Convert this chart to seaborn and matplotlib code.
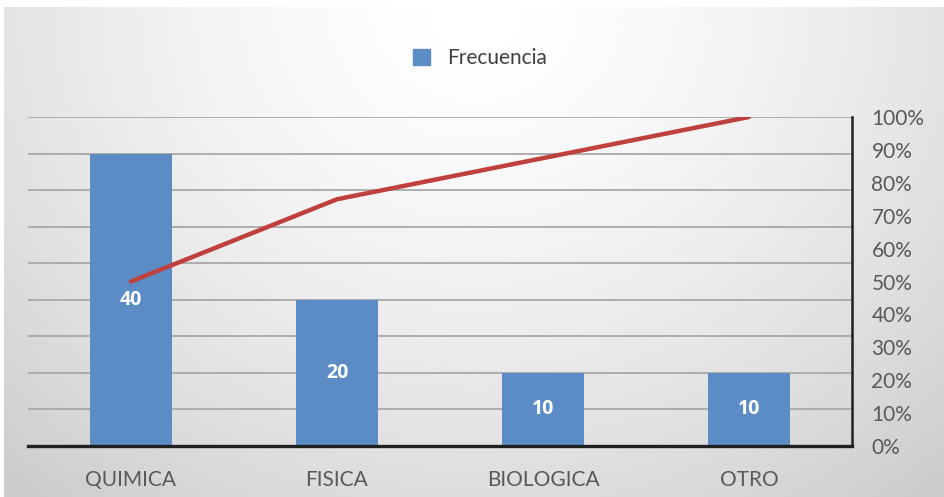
import numpy as np
import matplotlib.pyplot as plt
import seaborn as sns
from matplotlib.patches import Patch
from matplotlib.ticker import PercentFormatter

# Datos
categorias = ['QUIMICA', 'FISICA', 'BIOLOGICA', 'OTRO']
frecuencia = [40, 20, 10, 10]
acumulado = [0.50, 0.75, 0.875, 1.00]

bar_color = '#5b8cc6'
line_color = '#c0403d'
text_color = '#595959'

sns.set_theme(style='white')
plt.rcParams['font.family'] = ['Lato', 'DejaVu Sans']

fig = plt.figure(figsize=(9.45, 4.97), dpi=100)

# fondo degradado tipo Excel
bg = fig.add_axes([0.004, 0, 0.996, 0.986], zorder=-10)
gx, gy = np.meshgrid(np.linspace(0, 1, 300), np.linspace(0, 1, 200))
r = np.sqrt(((gx - 0.5) / 0.75) ** 2 + ((gy - 0.0) / 1.3) ** 2)
shade = 1 - 0.2 * np.clip(r, 0, 1) ** 1.5
bg.imshow(shade, cmap='gray', vmin=0, vmax=1, aspect='auto', extent=[0, 1, 1, 0])
bg.axis('off')

ax = fig.add_axes([0.0296, 0.1026, 0.872, 0.662])
ax.patch.set_alpha(0)

sns.barplot(x=categorias, y=frecuencia, color=bar_color, width=0.4,
            saturation=1, linewidth=0, ax=ax, zorder=3)
ax.set_ylim(0, 45)
ax.set_xlim(-0.5, 3.5)
ax.set_yticks(np.arange(5, 46, 5))
ax.yaxis.grid(True, color='#a8a8a8', linewidth=1.3, zorder=0)
ax.set_yticklabels([])
ax.tick_params(axis='y', length=0)
ax.tick_params(axis='x', length=0, labelsize=15, labelcolor=text_color, pad=17)
ax.set_xlabel('')
ax.set_ylabel('')
for s in ['top', 'left', 'right']:
    ax.spines[s].set_visible(False)
ax.spines['bottom'].set_color('#202020')
ax.spines['bottom'].set_linewidth(2.4)
ax.spines['bottom'].set_zorder(5)

for i, v in enumerate(frecuencia):
    ax.text(i, v / 2, str(v), ha='center', va='center', color='white',
            fontsize=14, fontweight='bold', family='Open Sans', zorder=6)

ax2 = ax.twinx()
sns.lineplot(x=np.arange(len(categorias)), y=acumulado, color=line_color,
             linewidth=3.2, ax=ax2, zorder=4, solid_capstyle='round')
ax2.set_ylim(0, 1)
ax2.set_yticks(np.arange(0, 1.01, 0.1))
ax2.yaxis.set_major_formatter(PercentFormatter(1.0, decimals=0))
ax2.tick_params(axis='y', length=0, labelsize=15, labelcolor=text_color, pad=14)
for s in ['top', 'left', 'bottom']:
    ax2.spines[s].set_visible(False)
ax2.spines['right'].set_color('#202020')
ax2.spines['right'].set_linewidth(1.8)
ax2.grid(False)

fig.legend(handles=[Patch(color=bar_color)], labels=['Frecuencia'],
           loc='center', bbox_to_anchor=(0.508, 0.883), frameon=False,
           fontsize=15, handlelength=0.8, handleheight=0.8,
           handletextpad=0.85, labelcolor='#404040')

fig.savefig('out.png', dpi=100)
